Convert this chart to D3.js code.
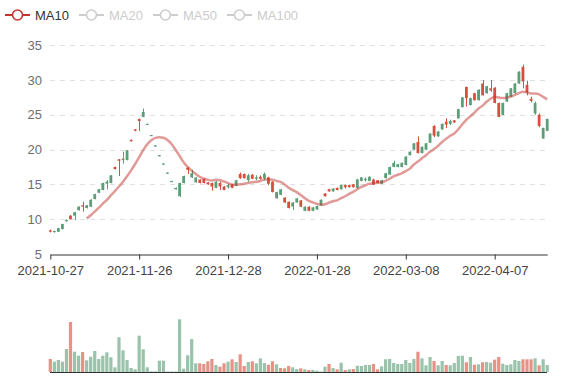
<!DOCTYPE html>
<html><head><meta charset="utf-8">
<script src="https://cdn.jsdelivr.net/npm/d3@7"></script>
<style>
html,body{margin:0;padding:0;background:#fff;}
svg{display:block;font-family:"Liberation Sans",Arial,sans-serif;}
</style>
</head><body>
<svg id="chart" width="577" height="380"></svg>
<script>
// ---------- DATA ----------
const dates = [
"2021-10-27","2021-10-28","2021-10-29","2021-11-01","2021-11-02","2021-11-03","2021-11-04","2021-11-05","2021-11-08","2021-11-09",
"2021-11-10","2021-11-11","2021-11-12","2021-11-15","2021-11-16","2021-11-17","2021-11-18","2021-11-19","2021-11-22","2021-11-23",
"2021-11-24","2021-11-25","2021-11-26","2021-11-29","2021-11-30","2021-12-01","2021-12-02","2021-12-03","2021-12-06","2021-12-07",
"2021-12-08","2021-12-09","2021-12-10","2021-12-13","2021-12-14","2021-12-15","2021-12-16","2021-12-17","2021-12-20","2021-12-21",
"2021-12-22","2021-12-23","2021-12-24","2021-12-27","2021-12-28","2021-12-29","2021-12-30","2021-12-31","2022-01-04","2022-01-05",
"2022-01-06","2022-01-07","2022-01-10","2022-01-11","2022-01-12","2022-01-13","2022-01-14","2022-01-17","2022-01-18","2022-01-19",
"2022-01-20","2022-01-21","2022-01-24","2022-01-25","2022-01-26","2022-01-27","2022-01-28","2022-02-07","2022-02-08","2022-02-09",
"2022-02-10","2022-02-11","2022-02-14","2022-02-15","2022-02-16","2022-02-17","2022-02-18","2022-02-21","2022-02-22","2022-02-23",
"2022-02-24","2022-02-25","2022-02-28","2022-03-01","2022-03-02","2022-03-03","2022-03-04","2022-03-07","2022-03-08","2022-03-09",
"2022-03-10","2022-03-11","2022-03-14","2022-03-15","2022-03-16","2022-03-17","2022-03-18","2022-03-21","2022-03-22","2022-03-23",
"2022-03-24","2022-03-25","2022-03-28","2022-03-29","2022-03-30","2022-03-31","2022-04-01","2022-04-04","2022-04-05","2022-04-06",
"2022-04-07","2022-04-08","2022-04-11","2022-04-12","2022-04-13","2022-04-14","2022-04-15","2022-04-18","2022-04-19","2022-04-20",
"2022-04-21","2022-04-22","2022-04-25","2022-04-26"];

const opens = [
8.4,8.15,8.2,8.6,9.7,10.5,10.5,11.3,12.0,11.6,
11.8,12.9,13.8,14.2,15.1,15.2,17.5,18.6,18.5,18.5,
21.4,22.9,24.4,24.7,23.55,21.95,20.45,19.05,17.85,16.55,
15.35,14.3,13.3,15.2,17.4,16.0,15.3,15.7,15.8,15.3,
15.2,14.5,15.2,14.7,14.6,15.0,14.8,16.5,16.5,15.6,
16.4,15.8,16.1,15.9,16.0,15.4,13.0,13.5,13.1,12.5,
11.8,12.4,12.7,11.2,11.8,11.2,11.4,12.0,13.7,14.3,
14.0,14.5,14.3,14.9,14.9,15.0,14.5,15.5,15.6,15.5,
15.7,15.6,15.1,15.9,16.4,17.5,17.5,17.5,17.8,19.2,
20.0,21.1,19.5,20.0,21.0,23.4,21.9,22.9,24.0,23.7,
24.2,24.5,26.1,29.0,26.4,28.1,27.1,29.5,28.1,28.8,
28.9,26.7,25.0,26.9,27.6,28.1,29.5,31.9,29.3,27.3,
25.2,25.0,21.6,22.7];

const closes = [
8.2,8.3,8.7,9.3,9.9,10.0,11.0,11.8,11.8,12.0,
12.8,13.6,14.3,15.2,15.4,16.3,17.2,18.4,18.7,19.9,
21.2,22.7,24.1,25.4,23.7,22.1,20.6,19.2,18.0,16.7,
15.5,14.5,15.2,16.2,17.1,16.6,16.0,15.2,15.2,15.0,
14.7,15.4,14.7,14.2,14.9,14.5,15.6,15.9,15.9,16.3,
15.8,16.0,15.8,16.5,15.1,13.9,13.9,14.3,12.4,11.6,
12.4,13.0,11.8,11.8,11.2,11.7,11.9,12.8,13.3,14.0,
14.4,14.2,14.9,14.6,14.6,14.6,15.7,16.0,15.8,16.1,
15.0,15.2,15.6,16.6,17.5,18.1,17.9,18.1,19.0,19.7,
20.9,19.5,20.4,20.9,22.3,22.0,22.6,23.7,23.6,24.1,
23.9,25.8,27.5,27.4,27.4,27.1,28.6,27.8,29.1,28.5,
26.7,24.7,26.7,28.1,28.8,29.5,31.2,29.8,28.2,27.0,
26.7,23.4,23.1,24.4];

const lows = [
8.1,8.1,8.15,8.5,9.65,9.95,9.9,11.25,11.1,11.55,
11.75,12.85,13.75,14.15,14.3,15.15,17.15,16.2,18.0,18.45,
21.15,22.65,22.7,24.65,23.55,21.95,20.45,19.05,17.85,16.55,
15.35,14.25,13.2,15.15,16.5,15.95,15.25,15.15,15.15,14.95,
14.1,14.45,14.2,14.15,14.4,14.45,14.75,15.8,15.85,15.4,
15.75,15.6,15.7,15.6,14.9,13.85,12.95,13.45,12.35,11.55,
11.3,12.35,11.75,11.15,11.15,11.15,11.35,11.95,13.25,13.95,
13.95,14.15,14.25,14.4,14.55,14.55,14.4,15.45,15.4,15.45,
14.9,15.15,15.05,15.85,16.35,17.45,17.45,17.45,17.75,19.15,
19.95,19.45,19.45,19.95,20.95,21.8,21.85,22.85,23.1,23.5,
23.85,24.45,26.05,26.2,26.35,27.05,27.05,27.75,28.05,28.3,
26.65,24.65,24.95,26.85,27.55,28.05,29.45,28.8,27.8,26.8,
25.0,23.2,21.55,22.65];

const highs = [
8.5,8.35,8.75,9.35,9.95,10.6,11.05,11.85,12.5,12.05,
12.85,13.65,14.35,15.25,15.6,16.35,17.55,18.65,19.7,19.95,
21.45,22.95,24.45,25.9,23.7,22.1,20.6,19.2,18.0,16.7,
15.5,14.55,15.25,16.25,17.45,17.1,16.05,15.75,15.85,15.35,
15.25,15.45,15.4,14.75,15.1,15.05,15.65,16.7,16.55,16.5,
16.45,16.3,16.3,16.7,16.1,15.45,13.95,14.35,13.15,12.55,
12.45,13.05,12.75,11.85,11.85,11.75,11.95,12.85,13.75,14.35,
14.45,14.55,14.95,15.0,14.95,15.05,15.8,16.05,16.0,16.15,
15.8,15.65,15.65,16.65,17.55,18.4,17.95,18.15,19.05,19.75,
20.95,21.9,20.45,20.95,22.35,23.5,22.65,23.75,24.5,24.3,
24.25,25.85,27.55,29.05,27.45,28.15,28.65,30.0,29.15,30.0,
28.95,26.75,26.75,28.15,28.85,29.55,31.25,32.2,29.9,27.6,
26.9,25.2,23.15,24.45];

const volumes = [
130,103,120,103,230,500,203,163,200,117,
153,210,130,163,197,147,47,347,217,120,
40,27,363,227,47,7,7,113,113,5,
5,5,527,33,167,330,87,87,80,107,
130,70,53,87,103,127,100,177,60,100,
107,87,137,90,73,107,77,40,37,60,
47,30,37,27,20,20,13,5,53,80,
40,27,93,20,27,30,63,60,70,70,
80,27,57,127,130,90,80,80,120,90,
130,203,137,67,150,110,67,110,70,67,
90,160,163,97,150,73,77,97,100,93,
123,150,83,70,77,120,110,127,127,127,
137,67,127,70];

// 1 = red bar, 0 = green bar
const volumeRed = [
1,0,0,0,0,1,0,0,1,0,
0,0,0,0,0,0,0,0,0,0,
0,0,0,0,0,0,0,0,0,0,
0,0,0,0,0,0,0,1,1,1,
1,0,1,1,0,1,0,1,1,0,
1,0,0,0,1,1,0,1,1,1,
0,0,1,0,1,0,0,0,0,1,
0,1,0,1,0,1,0,0,0,0,
1,1,0,0,0,0,0,0,0,0,
0,1,0,0,0,1,0,0,1,0,
0,0,0,1,0,1,0,1,0,0,
1,1,0,0,0,0,0,1,1,1,
0,1,0,0];

const xTickLabels = ["2021-10-27","2021-11-26","2021-12-28","2022-01-28","2022-03-08","2022-04-07"];
const yTickValues = [5,10,15,20,25,30,35];
const legendNames = ["MA10","MA20","MA50","MA100"];
const activeLegend = ["MA10"];
const maWindow = 10;

// ---------- STYLE ----------
const UP = "#5b9e77", DOWN = "#d94f3d", MA_COLOR = "#c23531";
const svg = d3.select("#chart");

const x = d3.scalePoint().domain(dates).range([50.3, 547.2]);
const y = d3.scaleLinear().domain([5, 35]).range([254, 45.2]);
const yv = d3.scaleLinear().domain([0, 600]).range([372, 312]);

// grid lines
svg.append("g").selectAll("line").data(yTickValues.filter(v => v > 5)).join("line")
  .attr("x1", 50).attr("x2", 547)
  .attr("y1", d => Math.round(y(d)) + 0.5).attr("y2", d => Math.round(y(d)) + 0.5)
  .attr("stroke", "#e0e0e0").attr("stroke-dasharray", "5,5");

// y axis labels
const yAxis = d3.axisLeft(y).tickValues(yTickValues).tickSize(0).tickPadding(8);
const gy = svg.append("g").attr("transform", "translate(50,0)").call(yAxis);
gy.select(".domain").remove();
gy.selectAll("text").attr("fill", "#6e6e6e").style("font-size", "13px")
  .style("font-family", '"Liberation Sans",Arial,sans-serif');

// x axis
const xAxis = d3.axisBottom(x).tickValues(xTickLabels).tickSize(5).tickSizeOuter(0).tickPadding(6);
const gx = svg.append("g").attr("transform", "translate(0,254.5)").call(xAxis);
gx.select(".domain").attr("stroke", "#333");
gx.selectAll(".tick line").attr("stroke", "#333");
gx.selectAll("text").attr("fill", "#444").style("font-size", "13px")
  .style("font-family", '"Liberation Sans",Arial,sans-serif');

// candles
const bw = 2.8;
const candles = svg.append("g");
dates.forEach((d, i) => {
  const o = opens[i], c = closes[i];
  const col = c >= o ? UP : DOWN;
  const cx = Math.round(x(d)) + 0.5;
  candles.append("line").attr("x1", cx).attr("x2", cx)
    .attr("y1", y(highs[i])).attr("y2", y(lows[i]))
    .attr("stroke", col).attr("stroke-width", 1);
  const top = y(Math.max(o, c)), bot = y(Math.min(o, c));
  candles.append("rect").attr("x", x(d) - bw / 2).attr("width", bw)
    .attr("y", top).attr("height", Math.max(1.2, bot - top))
    .attr("fill", col);
});

// MA10
const ma = closes.map((c, i) => {
  if (i < maWindow - 1) return null;
  let s = 0; for (let k = i - maWindow + 1; k <= i; k++) s += closes[k];
  return s / maWindow;
});
const line = d3.line().defined(d => d[1] != null)
  .x(d => x(d[0])).y(d => y(d[1])).curve(d3.curveMonotoneX);
svg.append("path").datum(dates.map((d, i) => [d, ma[i]]))
  .attr("d", line).attr("fill", "none")
  .attr("stroke", MA_COLOR).attr("stroke-opacity", 0.5).attr("stroke-width", 2.5);

// volume
const vw = 3.2;
svg.append("g").selectAll("rect").data(dates).join("rect")
  .attr("x", d => x(d) - vw / 2).attr("width", vw)
  .attr("y", (d, i) => yv(volumes[i])).attr("height", (d, i) => yv(0) - yv(volumes[i]))
  .attr("fill", (d, i) => volumeRed[i] ? DOWN : UP)
  .attr("fill-opacity", 0.62);
svg.append("line").attr("x1", 50).attr("x2", 547).attr("y1", 372.5).attr("y2", 372.5)
  .attr("stroke", "#333");

// legend
let lx = 5;
const lg = svg.append("g");
legendNames.forEach(name => {
  const on = activeLegend.includes(name);
  const col = on ? MA_COLOR : "#ccc";
  const g = lg.append("g").attr("transform", `translate(${lx},15)`);
  g.append("line").attr("x1", 0).attr("x2", 25).attr("y1", 0).attr("y2", 0)
    .attr("stroke", col).attr("stroke-width", 2);
  g.append("circle").attr("cx", 12.5).attr("cy", 0).attr("r", 5)
    .attr("fill", "#fff").attr("stroke", col).attr("stroke-width", 1.6);
  const t = g.append("text").attr("x", 30).attr("y", 5).text(name)
    .attr("fill", on ? "#333" : "#ccc").style("font-size", "13px");
  lx += 30 + t.node().getComputedTextLength() + 10;
});
</script>
</body></html>
